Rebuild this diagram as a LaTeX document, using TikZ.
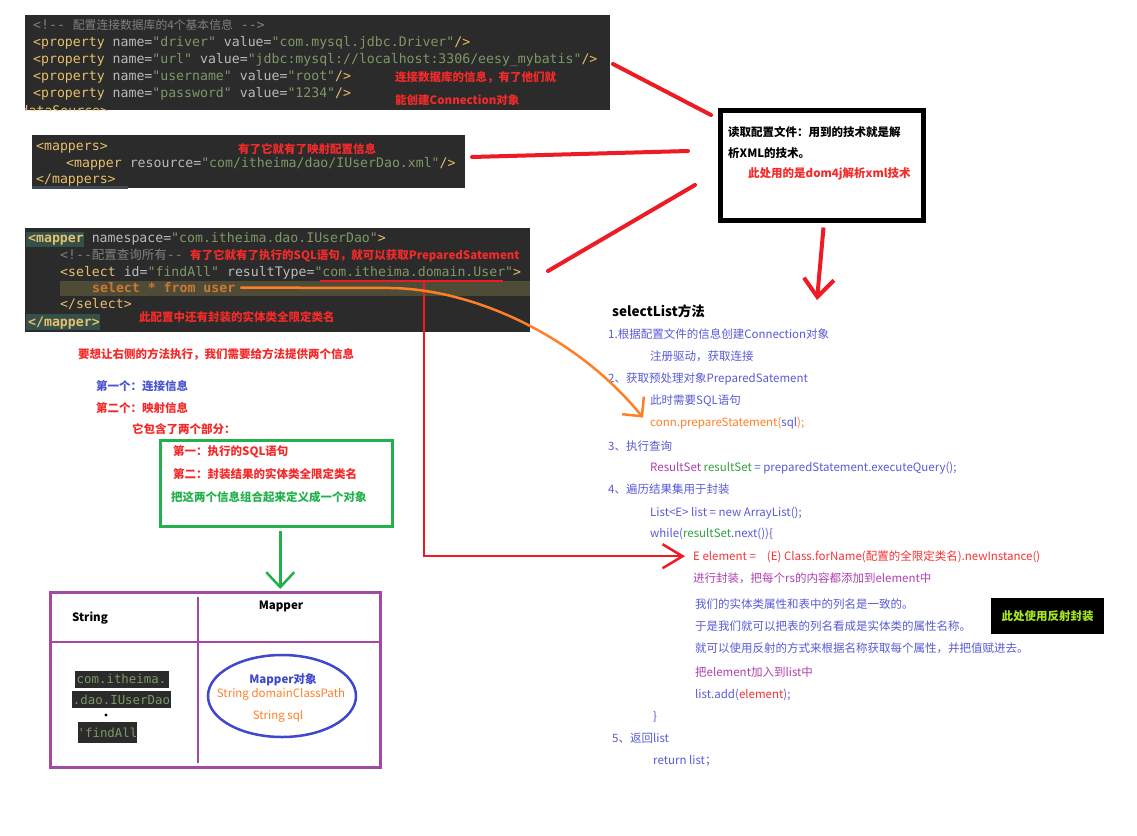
\documentclass[tikz,border=0pt]{standalone}
\usepackage{fontspec}
\setmainfont{Noto Sans CJK SC}
\setmonofont{DejaVu Sans Mono}
\newfontfamily\cjk{Noto Sans CJK SC}
\usetikzlibrary{arrows.meta,shapes.geometric}
\definecolor{codebg}{HTML}{2B2B2B}
\definecolor{tagc}{HTML}{E8BF6A}
\definecolor{attc}{HTML}{BABABA}
\definecolor{strc}{HTML}{7F9765}
\definecolor{cmtc}{HTML}{808080}
\definecolor{kwc}{HTML}{CC7832}
\definecolor{rowhl}{HTML}{4E4C36}
\definecolor{taghl}{HTML}{33504A}
\definecolor{stripc}{HTML}{3E4A55}
\definecolor{annred}{HTML}{F42A2A}
\definecolor{pred}{HTML}{ED1C24}
\definecolor{lblue}{HTML}{5A5AD6}
\definecolor{lblueb}{HTML}{4B55D0}
\definecolor{lpurple}{HTML}{B040B0}
\definecolor{lgreen}{HTML}{22B14C}
\definecolor{codegreen}{HTML}{30A040}
\definecolor{lorange}{HTML}{FF7F27}
\definecolor{tpurple}{HTML}{A349A4}
\definecolor{eblue}{HTML}{3F48CC}
\definecolor{ygreen}{HTML}{A8E61D}
\definecolor{elemred}{HTML}{F53333}
\newcommand\xtg[1]{\textcolor{tagc}{#1}}
\newcommand\xat[1]{\textcolor{attc}{#1}}
\newcommand\xst[1]{\textcolor{strc}{#1}}
\newcommand\xcj[1]{{\cjk\fontsize{11.8}{14}\selectfont #1}}
\begin{document}
\begin{tikzpicture}[x=1pt,y=-1pt,
  code/.style={anchor=base west, inner sep=0pt, font=\ttfamily\fontsize{13.2}{15}\selectfont, text=attc},
  ann/.style={anchor=base west, inner sep=0pt, font=\bfseries\fontsize{11.5}{14}\selectfont, text=annred},
  txt/.style={anchor=base west, inner sep=0pt, font=\fontsize{11.5}{14}\selectfont, text=lblue},
  bgbox/.style={fill=codebg, draw=none, inner sep=0pt, anchor=north west},
  redline/.style={draw=pred, line width=4pt, line cap=round},
  snip/.style={fill=codebg, text=strc, font=\ttfamily\fontsize{12.4}{14}\selectfont, inner sep=0pt},
  boldtxt/.style={inner sep=0pt, font=\bfseries\fontsize{11.5}{14}\selectfont},
]
\fill[white] (0,0) rectangle (1137,835);
\useasboundingbox (0,0) rectangle (1137,835);

% ---------- code block 1 ----------
\node[bgbox, minimum width=585pt, minimum height=95pt] (blk1) at (25,15) {};
\begin{scope}
  \clip (25,15) rectangle (610,110);
  \node[code, text=tagc] (b1l5) at (20.5,115) {dataSource>};
\end{scope}
\node[code, text=cmtc] (b1l0) at (33,29.5) {<!-{}- \xcj{配置连接数据库的4个基本信息} -{}->};
\node[code] (b1l1) at (33,46.5) {\xtg{<property} \xat{name=}\xst{"driver"} \xat{value=}\xst{"com.mysql.jdbc.Driver"}\xtg{/>}};
\node[code] (b1l2) at (33,63.5) {\xtg{<property} \xat{name=}\xst{"url"} \xat{value=}\xst{"jdbc:mysql://localhost:3306/eesy\_mybatis"}\xtg{/>}};
\node[code] (b1l3) at (33,80.5) {\xtg{<property} \xat{name=}\xst{"username"} \xat{value=}\xst{"root"}\xtg{/>}};
\node[code] (b1l4) at (33,97.5) {\xtg{<property} \xat{name=}\xst{"password"} \xat{value=}\xst{"1234"}\xtg{/>}};
\node[ann] (a1) at (395,81) {连接数据库的信息，有了他们就};
\node[ann] (a2) at (395,104) {能创建Connection对象};

% ---------- code block 2 ----------
\node[bgbox, minimum width=433pt, minimum height=53pt] (blk2) at (32,135) {};
\fill[stripc] (32,186) rectangle (128,188.5);
\node[code] (b2l1) at (36,150) {\xtg{<mappers>}};
\node[code] (b2l2) at (66,167) {\xtg{<mapper} \xat{resource=}\xst{"com/itheima/dao/IUserDao.xml"}\xtg{/>}};
\node[code] (b2l3) at (36,183) {\xtg{</mappers>}};
\node[ann] (a3) at (238,153) {有了它就有了映射配置信息};

% ---------- code block 3 ----------
\node[bgbox, minimum width=505pt, minimum height=104pt] (blk3) at (25,228) {};
\fill[taghl] (26,232) rectangle (84,247);
\fill[rowhl] (60,281) rectangle (530,296);
\fill[taghl] (26,314) rectangle (100,330);
\node[code] (b3l1) at (28,242.5) {\textbf{\xtg{<mapper}} \xat{namespace=}\xst{"com.itheima.dao.IUserDao"}\xtg{>}};
\node[code, text=cmtc] (b3l2) at (60,259.5) {<!-{}-{\cjk\fontsize{12.5}{14}\selectfont 配置查询所有}-{}-};
\node[ann] (a4) at (190,259.5) {有了它就有了执行的SQL语句，就可以获取PreparedSatement};
\node[code] (b3l3) at (60,276) {\xtg{<select} \xat{id=}\xst{"findAll"} \xat{resultType=}\xst{"com.itheima.domain.User"}\xtg{>}};
\node[code, text=kwc, font=\ttfamily\bfseries\fontsize{13.2}{15}\selectfont] (b3l4) at (92,292.5) {select * from user};
\node[code] (b3l5) at (60,308.5) {\xtg{</select>}};
\node[code] (b3l6) at (28,326) {\textbf{\xtg{</mapper>}}};
\node[ann] (a5) at (139,321.5) {此配置中还有封装的实体类全限定类名};

% ---------- reading box ----------
\node[draw=black, line width=5pt, minimum width=203pt, minimum height=110pt, anchor=north west, inner sep=0pt] (rbox) at (717.5,107.5) {};
\node[boldtxt, anchor=base west] (rb1) at (728,136) {读取配置文件：用到的技术就是解};
\node[boldtxt, anchor=base west] (rb2) at (728,157) {析XML的技术。};
\node[ann] (rb3) at (748,177) {此处用的是dom4j解析xml技术};

% red lines to box
\coordinate (r1a) at (613,64);  \coordinate (r1b) at (711,115);
\coordinate (r2a) at (472,157); \coordinate (r2b) at (688,151);
\coordinate (r3a) at (548,271); \coordinate (r3b) at (695,185);
\draw[redline] (r1a) -- (r1b);
\draw[redline] (r2a) -- (r2b);
\draw[redline] (r3a) -- (r3b);

% ---------- left explanation ----------
\node[ann] (l1) at (78,358) {要想让右侧的方法执行，我们需要给方法提供两个信息};
\node[ann, text=lblueb] (l2) at (96,390) {第一个：连接信息};
\node[ann] (l3) at (96,412) {第二个：映射信息};
\node[ann] (l4) at (132,433) {它包含了两个部分：};
\node[draw=lgreen, line width=2.5pt, anchor=north west, minimum width=232pt, minimum height=86pt, inner sep=0pt] (gbox) at (159,439) {};
\node[ann] (g1) at (173,455) {第一：执行的SQL语句};
\node[ann] (g2) at (173,478) {第二：封装结果的实体类全限定类名};
\node[ann, text=lgreen] (g3) at (171,501) {把这两个信息组合起来定义成一个对象};

% ---------- table ----------
\node[draw=tpurple, line width=2.5pt, anchor=north west, minimum width=330pt, minimum height=175pt, inner sep=0pt] (tbl) at (49,591) {};
\draw[tpurple, line width=2.5pt] (198,597) -- (198,763);
\draw[tpurple, line width=2.5pt] (49,642) -- (379,642);
\node[boldtxt] (tS) at (90,618) {String};
\node[boldtxt] (tM) at (281,606) {Mapper};
\node[snip, minimum width=94pt, minimum height=17pt] (sn1) at (121.5,679) {com.itheima.};
\node[snip, minimum width=99pt, minimum height=17pt] (sn2) at (121.5,699.5) {.dao.IUserDao};
\node[snip, minimum width=59pt, minimum height=21pt] (sn3) at (107.5,732.5) {\symbol{39}findAll};
\fill (106,715) circle (1.6);
\node[draw=eblue, line width=2.5pt, ellipse, minimum width=148pt, minimum height=82pt, inner sep=0pt] (mobj) at (282,696) {};
\node[boldtxt, text=eblue] (mo1) at (283,680) {Mapper对象};
\node[inner sep=0pt, font=\fontsize{11.5}{14}\selectfont, text=lorange] (mo2) at (281,694) {String domainClassPath};
\node[inner sep=0pt, font=\fontsize{11.5}{14}\selectfont, text=lorange] (mo3) at (278,716) {String sql};

% green arrow
\draw[lgreen, line width=2.5pt, -{Straight Barb[length=15pt,width=28pt]}] ([shift={(4,3)}]gbox.south) -- ([shift={(65,-2)}]tbl.north);

% ---------- selectList ----------
\node[anchor=base west, inner sep=0pt, font=\bfseries\fontsize{13.5}{16}\selectfont] (sl) at (612,316) {selectList方法};
\node[txt] (s1l) at (608,338) {1.根据配置文件的信息创建Connection对象};
\node[txt] (s2l) at (650,360) {注册驱动，获取连接};
\node[txt] (s3l) at (608,382) {2、获取预处理对象PreparedSatement};
\node[txt] (s4l) at (650,404) {此时需要SQL语句};
\node[txt, text=lorange] (conn) at (650,426) {conn.prepareStatement(\textcolor{lblue}{sql});};
\node[txt] (s6l) at (608,450) {3、执行查询};
\node[txt] (s7l) at (650,471) {\textcolor{lpurple}{ResultSet} \textcolor{codegreen}{resultSet} = preparedStatement.executeQuery();};
\node[txt] (s8l) at (608,493) {4、遍历结果集用于封装};
\node[txt] (s9l) at (650,516) {List<E> list = new ArrayList();};
\node[txt] (s10l) at (650,537) {while(\textcolor{codegreen}{resultSet}.next())\{};
\node[txt, text=elemred] (elem) at (693,560) {E element =\hspace{11pt}(E) Class.forName(配置的全限定类名).newInstance()};
\node[txt, text=lpurple] (s12l) at (693,582) {进行封装，把每个rs的内容都添加到element中};
\node[txt] (s13l) at (695,608) {我们的实体类属性和表中的列名是一致的。};
\node[txt] (s14l) at (695,630) {于是我们就可以把表的列名看成是实体类的属性名称。};
\node[txt] (s15l) at (695,652) {就可以使用反射的方式来根据名称获取每个属性，并把值赋进去。};
\node[txt, text=lpurple] (s16l) at (695,676) {把element加入到list中};
\node[txt] (s17l) at (695,698) {list.add(\textcolor{elemred}{element});};
\node[txt] (s18l) at (653,720) {\}};
\node[txt] (s19l) at (612,742) {5、返回list};
\node[txt] (s20l) at (653,764) {return list；};
\node[fill=black, anchor=north west, minimum width=113pt, minimum height=36pt, inner sep=0pt, text=ygreen, font=\bfseries\fontsize{11.5}{14}\selectfont] (refl) at (991,598) {此处使用反射封装};

% thick red arrow from box to selectList
\draw[pred, line width=4pt, -{Straight Barb[length=18pt,width=30pt]}] ([shift={(2,5)}]rbox.south) -- ([shift={(205,-4)}]sl.north west);

% red underline and L-connector
\coordinate (ulL) at (320,281);
\coordinate (ulR) at (503,281);
\coordinate (vTop) at (424,281);
\draw[pred, line width=2.5pt] (ulL) -- (ulR);
\draw[pred, line width=2.5pt, -{Straight Barb[length=20pt,width=24pt]}] (vTop) |- ([xshift=-8pt]elem.west);

% orange curve
\coordinate (oc1) at (392,288);
\draw[lorange, line width=2.5pt, -{Straight Barb[length=14pt,width=28pt]}] ([xshift=5pt]b3l4.east) -- (oc1) .. controls (480,290) and (580,340) .. ([shift={(-7,-5)}]conn.west);
\end{tikzpicture}
\end{document}
